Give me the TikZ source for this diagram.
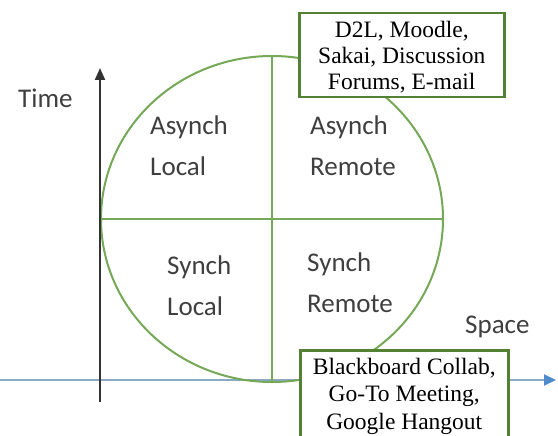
\documentclass[tikz,border=0pt]{standalone}
\usepackage{fontspec}
\setmainfont{Liberation Serif}
\newfontfamily\calibri{Carlito}
\usetikzlibrary{shapes.geometric,arrows.meta}
\definecolor{ringgreen}{HTML}{76A957}
\definecolor{boxgreen}{HTML}{548235}
\definecolor{axisblue}{HTML}{8DA9C4}
\definecolor{tipblue}{HTML}{4F8BCB}
\definecolor{labelgrey}{HTML}{3F3F3F}
\newcommand{\toptline}{\rule{0pt}{20pt}}
\begin{document}
\begin{tikzpicture}[x=1pt, y=-1pt,
			quad/.style={align=left, inner sep=0pt, anchor=north west, text=labelgrey, font=\calibri\fontsize{27}{41}\selectfont},
			tool/.style={draw=boxgreen, line width=2.5pt, fill=white, align=center, anchor=north west, minimum width=205pt, inner ysep=4pt, font=\fontsize{23.5}{26}\selectfont},
			ring/.style={draw=ringgreen, line width=2pt, ellipse, inner sep=0pt, minimum width=342pt, minimum height=326pt}]
			
			\useasboundingbox (0,0) rectangle (558,436);
			\clip (0,0) rectangle (558,436);
			\fill[white] (0,0) rectangle (558,436);
			
			\coordinate (x0) at (0,380);
			\coordinate (x1) at (556,380);
			\coordinate (t0) at (100,402);
			\coordinate (t1) at (100,68);
			
			\draw[axisblue, line width=2pt, -{Triangle[length=12pt, width=11pt, color=tipblue, fill=tipblue]}] (x0) to (x1);
			
			\node[ring] (circ) at (272,219) {};
			\draw[ringgreen, line width=2pt] (circ.north) to (circ.south);
			\draw[ringgreen, line width=2pt] (circ.west) to (circ.east);
			
			\draw[black!80, line width=2pt, -{Triangle[length=12pt, width=10pt]}] (t0) to (t1);
			
			\node[quad] (time) at (18,89) {Time};
			\node[quad] (space) at (465,316) {Space};
			\node[quad] (al) at (150,116) {Asynch\\Local};
			\node[quad] (ar) at (310,116) {Asynch\\Remote};
			\node[quad] (sl) at (167,256) {Synch\\Local};
			\node[quad] (sr) at (307,253) {Synch\\Remote};
			
			\node[tool] (async) at (298,12) {\toptline D2L, Moodle,\\Sakai, Discussion\\Forums, E-mail};
			\node[tool, minimum width=208pt, font=\fontsize{23.5}{27.5}\selectfont] (sync) at (299,349) {\toptline Blackboard Collab,\\Go-To Meeting,\\Google Hangout};
			
		\end{tikzpicture}
\end{document}
